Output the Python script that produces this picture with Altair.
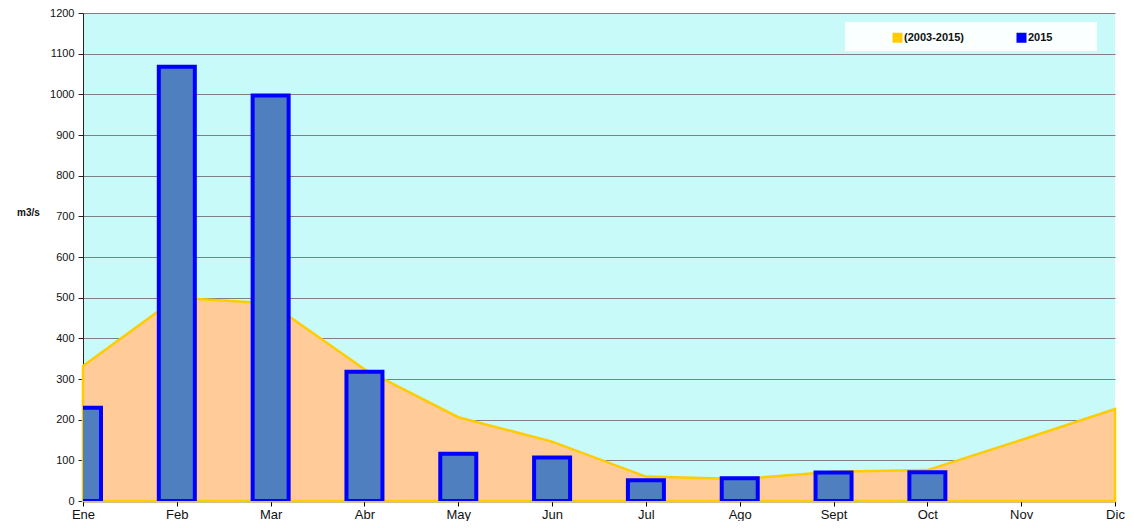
import altair as alt
import pandas as pd

months = ["Ene", "Feb", "Mar", "Abr", "May", "Jun", "Jul", "Ago", "Sept", "Oct", "Nov", "Dic"]
avg_2003_2015 = [332, 500, 486, 324, 206, 146, 60, 54, 72, 76, 150, 226]
flow_2015 = [229, 1068, 997, 318, 116, 107, 51, 56, 70, 71, None, None]
series = ["(2003-2015)", "2015"]
series_colors = ["#FFCC00", "#0000FF"]

df = pd.DataFrame({
    "idx": list(range(12)),
    "month": months,
    "avg": avg_2003_2015,
    "y2015": flow_2015,
})
leg = pd.DataFrame({"serie": series, "idx": [0, 0], "v": [0, 0]})

label_expr = "[" + ",".join(f"'{m}'" for m in months) + "][datum.value]"

xs = alt.X("idx:Q", scale=alt.Scale(domain=[0, 11], nice=False, zero=False, padding=0),
           axis=alt.Axis(values=list(range(12)), labelExpr=label_expr, title=None,
                         grid=False, domainColor="#000000", tickColor="#000000",
                         tickSize=5, labelFontSize=13, labelColor="#111111",
                         labelPadding=2, labelFlush=False, labelOverlap=False,
                         domainWidth=1.5))
ys = alt.Y("avg:Q", scale=alt.Scale(domain=[0, 1200], nice=False),
           axis=alt.Axis(values=list(range(0, 1201, 100)), format="d", title="m3/s", titleAngle=0,
                         titleX=-55, titleY=199, titleAlign="center", titleBaseline="middle",
                         titleFontSize=10, titleFontWeight="bold", titleColor="#111111",
                         gridColor="#808080", gridWidth=1, domainColor="#222222",
                         tickColor="#222222", tickSize=5, labelFontSize=11,
                         labelColor="#111111", labelPadding=4))

base = alt.Chart(df)

area = base.mark_area(color="#FFCC99", opacity=1, stroke="#FFCC00", strokeWidth=2.5,
                      interpolate="linear").encode(x=xs, y=ys)

bars = base.transform_filter("datum.y2015 != null").mark_bar(
    size=36, color="#4F7FBF", stroke="#0000FF", strokeWidth=4, clip=True
).encode(x=alt.X("idx:Q"), y=alt.Y("y2015:Q"))

# white legend background box (decoration, pixel placed)
legend_box = alt.Chart(leg).transform_filter("datum.serie == '2015'").mark_rect(
    color="#FFFFFF", opacity=0.9
).encode(x=alt.value(762), x2=alt.value(1014), y=alt.value(9), y2=alt.value(38))

legend_layer = alt.Chart(leg).mark_square(size=0, opacity=0).encode(
    x=alt.X("idx:Q"), y=alt.Y("v:Q"),
    color=alt.Color("serie:N",
                    scale=alt.Scale(domain=series, range=series_colors),
                    legend=alt.Legend(title=None, orient="none", legendX=809, legendY=19,
                                      direction="horizontal", columns=2, columnPadding=52,
                                      symbolType="square", symbolSize=100, symbolOpacity=1,
                                      symbolStrokeWidth=0, labelFontSize=11,
                                      labelFontWeight="bold", labelColor="#111111",
                                      labelOffset=1, padding=0, offset=0))
)

chart = alt.layer(area, bars, legend_box, legend_layer).properties(
    width=1032, height=488, padding={"left": 75, "top": 5, "right": 11, "bottom": 20},
    autosize=alt.AutoSizeParams(type="none"),
).configure(font="Liberation Sans").configure_view(fill="#C8FAFA", stroke=None)

chart.save("out.html", embed_options={"renderer": "svg", "actions": False})
